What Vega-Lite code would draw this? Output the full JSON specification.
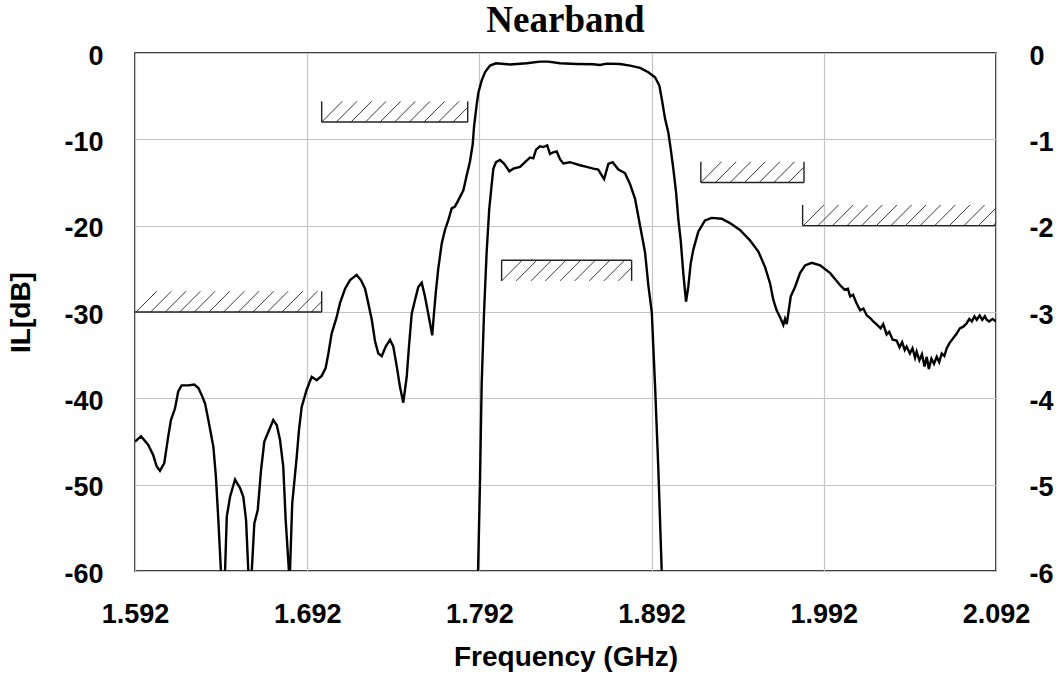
{
  "$schema": "https://vega.github.io/schema/vega-lite/v6.json",
  "width": 861,
  "height": 518,
  "autosize": {"type": "none"},
  "padding": {"left": 135, "top": 53, "right": 62, "bottom": 104},
  "background": "white",
  "title": {"text": "Nearband", "font": "Liberation Serif", "fontSize": 37, "fontWeight": "bold", "color": "#000", "anchor": "middle", "offset": 2},
  "config": {
    "view": {"stroke": "#000", "strokeWidth": 1.5},
    "axis": {
      "domain": false, "ticks": false,
      "labelFont": "Liberation Sans", "labelFontWeight": "bold", "labelFontSize": 27, "labelColor": "#000",
      "titleFont": "Liberation Sans", "titleFontWeight": "bold", "titleFontSize": 28, "titleColor": "#000",
      "gridColor": "#c4c4c4", "gridWidth": 1.2, "gridOpacity": 1
    }
  },
  "datasets": {
    "outer": [
      {"f":1.5920,"il":-45.0},{"f":1.5955,"il":-44.4},{"f":1.5997,"il":-45.4},{"f":1.6026,"il":-46.6},{"f":1.6046,"il":-47.9},{"f":1.6065,"il":-48.4},{"f":1.6090,"il":-47.5},{"f":1.6113,"il":-44.4},{"f":1.6129,"il":-42.5},{"f":1.6152,"il":-41.2},{"f":1.6171,"il":-39.2},{"f":1.6191,"il":-38.5},{"f":1.6230,"il":-38.5},{"f":1.6264,"il":-38.4},{"f":1.6288,"il":-38.8},{"f":1.6307,"il":-39.6},{"f":1.6327,"il":-40.6},{"f":1.6346,"il":-42.5},{"f":1.6375,"il":-45.6},{"f":1.6390,"il":-49.1},{"f":1.6404,"il":-54.1},{"f":1.6419,"il":-60.0},{"f":1.6431,"il":-68},{"f":1.6443,"il":-60.0},{"f":1.6453,"il":-53.7},{"f":1.6472,"il":-51.4},{"f":1.6501,"il":-49.4},{"f":1.6530,"il":-50.4},{"f":1.6549,"il":-51.4},{"f":1.6565,"il":-54.1},{"f":1.6578,"il":-60.0},{"f":1.6588,"il":-68},{"f":1.6598,"il":-60.0},{"f":1.6613,"il":-54.5},{"f":1.6633,"il":-52.9},{"f":1.6652,"il":-48.3},{"f":1.6671,"il":-45.0},{"f":1.6694,"il":-43.9},{"f":1.6723,"il":-42.5},{"f":1.6743,"il":-43.1},{"f":1.6762,"il":-44.8},{"f":1.6781,"il":-47.9},{"f":1.6795,"il":-54.1},{"f":1.6814,"il":-60.0},{"f":1.6817,"il":-66},{"f":1.6820,"il":-60.0},{"f":1.6833,"il":-52.2},{"f":1.6859,"il":-46.8},{"f":1.6872,"il":-43.7},{"f":1.6888,"il":-41.0},{"f":1.6917,"il":-39.0},{"f":1.6946,"il":-37.5},{"f":1.6975,"il":-37.9},{"f":1.7004,"il":-37.4},{"f":1.7027,"il":-36.5},{"f":1.7043,"il":-34.8},{"f":1.7062,"il":-32.5},{"f":1.7091,"il":-30.6},{"f":1.7110,"il":-29.0},{"f":1.7140,"il":-27.3},{"f":1.7169,"il":-26.3},{"f":1.7207,"il":-25.7},{"f":1.7232,"il":-26.3},{"f":1.7256,"il":-27.3},{"f":1.7275,"il":-29.0},{"f":1.7295,"il":-30.9},{"f":1.7314,"il":-33.4},{"f":1.7333,"il":-34.8},{"f":1.7353,"il":-35.1},{"f":1.7376,"il":-34.0},{"f":1.7401,"il":-33.2},{"f":1.7420,"il":-34.0},{"f":1.7440,"il":-36.3},{"f":1.7459,"il":-38.7},{"f":1.7478,"il":-40.5},{"f":1.7498,"il":-37.5},{"f":1.7511,"il":-34.0},{"f":1.7527,"il":-30.2},{"f":1.7546,"il":-28.6},{"f":1.7565,"il":-27.1},{"f":1.7585,"il":-26.6},{"f":1.7604,"il":-28.2},{"f":1.7623,"il":-30.2},{"f":1.7646,"il":-32.7},{"f":1.7656,"il":-30.2},{"f":1.7668,"il":-27.5},{"f":1.7681,"il":-25.0},{"f":1.7701,"il":-22.1},{"f":1.7720,"il":-20.5},{"f":1.7739,"il":-19.4},{"f":1.7759,"il":-18.0},{"f":1.7778,"il":-17.8},{"f":1.7807,"il":-16.7},{"f":1.7827,"il":-15.9},{"f":1.7846,"il":-14.2},{"f":1.7865,"il":-12.6},{"f":1.7881,"il":-10.6},{"f":1.7889,"il":-8.5},{"f":1.7904,"il":-6.0},{"f":1.7914,"il":-4.6},{"f":1.7933,"il":-3.2},{"f":1.7953,"il":-2.2},{"f":1.7982,"il":-1.46},{"f":1.8016,"il":-1.19},{"f":1.8098,"il":-1.34},{"f":1.8195,"il":-1.19},{"f":1.8272,"il":-1.0},{"f":1.8320,"il":-1.0},{"f":1.8388,"il":-1.19},{"f":1.8485,"il":-1.27},{"f":1.8581,"il":-1.31},{"f":1.8620,"il":-1.39},{"f":1.8659,"il":-1.23},{"f":1.8736,"il":-1.27},{"f":1.8795,"il":-1.46},{"f":1.8853,"il":-1.73},{"f":1.8901,"il":-2.23},{"f":1.8940,"il":-2.81},{"f":1.8965,"il":-3.77},{"f":1.8979,"il":-5.3},{"f":1.8998,"il":-7.6},{"f":1.9017,"il":-9.2},{"f":1.9031,"il":-11.1},{"f":1.9046,"il":-13.4},{"f":1.9062,"il":-16.1},{"f":1.9075,"il":-19.2},{"f":1.9089,"il":-21.7},{"f":1.9104,"il":-25.5},{"f":1.9120,"il":-28.8},{"f":1.9133,"il":-27.1},{"f":1.9147,"il":-24.4},{"f":1.9162,"il":-22.8},{"f":1.9191,"il":-20.7},{"f":1.9230,"il":-19.4},{"f":1.9269,"il":-19.1},{"f":1.9327,"il":-19.2},{"f":1.9375,"il":-19.7},{"f":1.9433,"il":-20.5},{"f":1.9491,"il":-21.7},{"f":1.9540,"il":-23.0},{"f":1.9579,"il":-24.8},{"f":1.9608,"il":-26.7},{"f":1.9627,"il":-28.6},{"f":1.9646,"il":-29.8},{"f":1.9666,"il":-30.6},{"f":1.9685,"il":-31.5},{"f":1.9695,"il":-30.8},{"f":1.9705,"il":-31.4},{"f":1.9728,"il":-28.2},{"f":1.9753,"il":-27.1},{"f":1.9782,"il":-25.5},{"f":1.9811,"il":-24.6},{"f":1.9850,"il":-24.3},{"f":1.9899,"il":-24.6},{"f":1.9957,"il":-25.5},{"f":2.0015,"il":-26.9},{"f":2.0040,"il":-27.4},{"f":2.0060,"il":-27.3},{"f":2.0073,"il":-28.2},{"f":2.0090,"il":-28.0},{"f":2.0110,"il":-29.0},{"f":2.0131,"il":-29.8},{"f":2.0150,"il":-29.6},{"f":2.0170,"il":-30.4},{"f":2.0190,"il":-30.7},{"f":2.0207,"il":-31.1},{"f":2.0230,"il":-31.5},{"f":2.0250,"il":-31.9},{"f":2.0265,"il":-31.4},{"f":2.0285,"il":-32.6},{"f":2.0300,"il":-32.3},{"f":2.0320,"il":-33.2},{"f":2.0343,"il":-33.3},{"f":2.0360,"il":-34.1},{"f":2.0375,"il":-33.5},{"f":2.0390,"il":-34.4},{"f":2.0401,"il":-34.0},{"f":2.0420,"il":-34.8},{"f":2.0435,"il":-34.2},{"f":2.0450,"il":-35.3},{"f":2.0459,"il":-34.6},{"f":2.0475,"il":-35.6},{"f":2.0490,"il":-34.9},{"f":2.0505,"il":-36.3},{"f":2.0518,"il":-35.2},{"f":2.0530,"il":-36.6},{"f":2.0545,"il":-35.4},{"f":2.0560,"il":-36.0},{"f":2.0576,"il":-35.2},{"f":2.0590,"il":-35.8},{"f":2.0605,"il":-34.8},{"f":2.0620,"il":-35.1},{"f":2.0634,"il":-34.2},{"f":2.0650,"il":-33.6},{"f":2.0665,"il":-33.2},{"f":2.0680,"il":-32.8},{"f":2.0692,"il":-32.5},{"f":2.0710,"il":-31.9},{"f":2.0730,"il":-31.7},{"f":2.0750,"il":-31.3},{"f":2.0765,"il":-30.8},{"f":2.0780,"il":-31.1},{"f":2.0795,"il":-30.5},{"f":2.0808,"il":-30.9},{"f":2.0825,"il":-30.4},{"f":2.0840,"il":-30.9},{"f":2.0855,"il":-30.5},{"f":2.0866,"il":-30.9},{"f":2.0880,"il":-31.1},{"f":2.0900,"il":-30.8},{"f":2.0920,"il":-31.1}
    ],
    "inner": [
      {"f":1.7910,"il":-6.2},{"f":1.7923,"il":-5.01},{"f":1.7933,"il":-3.85},{"f":1.7947,"il":-3.0},{"f":1.7962,"il":-2.31},{"f":1.7977,"il":-1.81},{"f":1.7991,"il":-1.53},{"f":1.8001,"il":-1.34},{"f":1.8016,"il":-1.265},{"f":1.8040,"il":-1.24},{"f":1.8063,"il":-1.28},{"f":1.8094,"il":-1.37},{"f":1.8117,"il":-1.34},{"f":1.8156,"il":-1.32},{"f":1.8185,"il":-1.265},{"f":1.8214,"il":-1.21},{"f":1.8233,"il":-1.22},{"f":1.8249,"il":-1.12},{"f":1.8272,"il":-1.08},{"f":1.8291,"il":-1.09},{"f":1.8314,"il":-1.07},{"f":1.8330,"il":-1.17},{"f":1.8349,"il":-1.15},{"f":1.8369,"il":-1.14},{"f":1.8388,"il":-1.23},{"f":1.8407,"il":-1.28},{"f":1.8446,"il":-1.265},{"f":1.8504,"il":-1.3},{"f":1.8543,"il":-1.32},{"f":1.8581,"il":-1.34},{"f":1.8610,"il":-1.35},{"f":1.8644,"il":-1.46},{"f":1.8669,"il":-1.285},{"f":1.8694,"il":-1.265},{"f":1.8727,"il":-1.35},{"f":1.8765,"il":-1.39},{"f":1.8795,"il":-1.52},{"f":1.8824,"il":-1.69},{"f":1.8853,"il":-2.0},{"f":1.8882,"il":-2.31},{"f":1.8901,"il":-2.69},{"f":1.8921,"il":-3.0},{"f":1.8940,"il":-3.85},{"f":1.8959,"il":-4.81},{"f":1.8982,"il":-6.2}
    ],
    "hatch": [
      {"x1":1.5926,"y1":-30,"x2":1.6046,"y2":-27.6},{"x1":1.6011,"y1":-30,"x2":1.6131,"y2":-27.6},{"x1":1.6096,"y1":-30,"x2":1.6216,"y2":-27.6},{"x1":1.6180,"y1":-30,"x2":1.6300,"y2":-27.6},{"x1":1.6265,"y1":-30,"x2":1.6385,"y2":-27.6},{"x1":1.6350,"y1":-30,"x2":1.6470,"y2":-27.6},{"x1":1.6435,"y1":-30,"x2":1.6555,"y2":-27.6},{"x1":1.6520,"y1":-30,"x2":1.6640,"y2":-27.6},{"x1":1.6605,"y1":-30,"x2":1.6725,"y2":-27.6},{"x1":1.6689,"y1":-30,"x2":1.6809,"y2":-27.6},{"x1":1.6774,"y1":-30,"x2":1.6894,"y2":-27.6},{"x1":1.6859,"y1":-30,"x2":1.6979,"y2":-27.6},{"x1":1.6944,"y1":-30,"x2":1.7004,"y2":-28.8},
      {"x1":1.7004,"y1":-8,"x2":1.7124,"y2":-5.6},{"x1":1.7089,"y1":-8,"x2":1.7209,"y2":-5.6},{"x1":1.7174,"y1":-8,"x2":1.7294,"y2":-5.6},{"x1":1.7258,"y1":-8,"x2":1.7378,"y2":-5.6},{"x1":1.7343,"y1":-8,"x2":1.7463,"y2":-5.6},{"x1":1.7428,"y1":-8,"x2":1.7548,"y2":-5.6},{"x1":1.7513,"y1":-8,"x2":1.7633,"y2":-5.6},{"x1":1.7598,"y1":-8,"x2":1.7718,"y2":-5.6},{"x1":1.7682,"y1":-8,"x2":1.7802,"y2":-5.6},{"x1":1.7767,"y1":-8,"x2":1.7852,"y2":-6.3},
      {"x1":1.8049,"y1":-26.4,"x2":1.8169,"y2":-24},{"x1":1.8134,"y1":-26.4,"x2":1.8254,"y2":-24},{"x1":1.8219,"y1":-26.4,"x2":1.8339,"y2":-24},{"x1":1.8303,"y1":-26.4,"x2":1.8423,"y2":-24},{"x1":1.8388,"y1":-26.4,"x2":1.8508,"y2":-24},{"x1":1.8473,"y1":-26.4,"x2":1.8593,"y2":-24},{"x1":1.8558,"y1":-26.4,"x2":1.8678,"y2":-24},{"x1":1.8643,"y1":-26.4,"x2":1.8763,"y2":-24},{"x1":1.8727,"y1":-26.4,"x2":1.8804,"y2":-24.86},
      {"x1":1.9206,"y1":-15,"x2":1.9326,"y2":-12.6},{"x1":1.9291,"y1":-15,"x2":1.9411,"y2":-12.6},{"x1":1.9376,"y1":-15,"x2":1.9496,"y2":-12.6},{"x1":1.9460,"y1":-15,"x2":1.9580,"y2":-12.6},{"x1":1.9545,"y1":-15,"x2":1.9665,"y2":-12.6},{"x1":1.9630,"y1":-15,"x2":1.9750,"y2":-12.6},{"x1":1.9715,"y1":-15,"x2":1.9805,"y2":-13.2},
      {"x1":1.9801,"y1":-20,"x2":1.9921,"y2":-17.6},{"x1":1.9886,"y1":-20,"x2":2.0006,"y2":-17.6},{"x1":1.9971,"y1":-20,"x2":2.0091,"y2":-17.6},{"x1":2.0055,"y1":-20,"x2":2.0175,"y2":-17.6},{"x1":2.0140,"y1":-20,"x2":2.0260,"y2":-17.6},{"x1":2.0225,"y1":-20,"x2":2.0345,"y2":-17.6},{"x1":2.0310,"y1":-20,"x2":2.0430,"y2":-17.6},{"x1":2.0394,"y1":-20,"x2":2.0514,"y2":-17.6},{"x1":2.0479,"y1":-20,"x2":2.0599,"y2":-17.6},{"x1":2.0564,"y1":-20,"x2":2.0684,"y2":-17.6},{"x1":2.0649,"y1":-20,"x2":2.0769,"y2":-17.6},{"x1":2.0734,"y1":-20,"x2":2.0854,"y2":-17.6},{"x1":2.0818,"y1":-20,"x2":2.0920,"y2":-17.96},{"x1":2.0903,"y1":-20,"x2":2.0920,"y2":-19.66}
    ],
    "edges": [
      {"x1":1.5920,"y1":-30,"x2":1.7004,"y2":-30},{"x1":1.7004,"y1":-30,"x2":1.7004,"y2":-27.6},
      {"x1":1.7004,"y1":-8,"x2":1.7852,"y2":-8},{"x1":1.7004,"y1":-8,"x2":1.7004,"y2":-5.6},{"x1":1.7852,"y1":-8,"x2":1.7852,"y2":-5.6},
      {"x1":1.8049,"y1":-24,"x2":1.8804,"y2":-24},{"x1":1.8049,"y1":-24,"x2":1.8049,"y2":-26.4},{"x1":1.8804,"y1":-24,"x2":1.8804,"y2":-26.4},
      {"x1":1.9206,"y1":-15,"x2":1.9805,"y2":-15},{"x1":1.9206,"y1":-15,"x2":1.9206,"y2":-12.6},{"x1":1.9805,"y1":-15,"x2":1.9805,"y2":-12.6},
      {"x1":1.9797,"y1":-20,"x2":2.0920,"y2":-20},{"x1":1.9797,"y1":-20,"x2":1.9797,"y2":-17.6}
    ]
  },
  "layer": [
    {
      "layer": [
        {
          "data": {"name": "outer"},
          "mark": {"type": "line", "color": "#000", "strokeWidth": 2.4, "clip": true},
          "encoding": {
            "x": {"field": "f", "type": "quantitative", "title": "Frequency (GHz)",
              "scale": {"domain": [1.592, 2.092], "nice": false, "zero": false},
              "axis": {"values": [1.592, 1.692, 1.792, 1.892, 1.992, 2.092], "format": ".3f", "labelFlush": false, "labelOverlap": false, "labelPadding": 30, "titlePadding": 16, "grid": true}},
            "y": {"field": "il", "type": "quantitative", "title": "IL[dB]",
              "scale": {"domain": [-60, 0], "nice": false, "zero": false},
              "axis": {"values": [-60, -50, -40, -30, -20, -10, 0], "labelExpr": "'' + datum.value", "labelPadding": 32, "labelOffset": 3, "titlePadding": 28, "grid": true, "labelOverlap": false}}
          }
        },
        {
          "data": {"name": "hatch"},
          "mark": {"type": "rule", "color": "#222", "strokeWidth": 0.9},
          "encoding": {
            "x": {"field": "x1", "type": "quantitative", "title": "Frequency (GHz)"},
            "y": {"field": "y1", "type": "quantitative", "title": "IL[dB]"},
            "x2": {"field": "x2"},
            "y2": {"field": "y2"}
          }
        },
        {
          "data": {"name": "edges"},
          "mark": {"type": "rule", "color": "#222", "strokeWidth": 1.4},
          "encoding": {
            "x": {"field": "x1", "type": "quantitative", "title": "Frequency (GHz)"},
            "y": {"field": "y1", "type": "quantitative", "title": "IL[dB]"},
            "x2": {"field": "x2"},
            "y2": {"field": "y2"}
          }
        }
      ]
    },
    {
      "data": {"name": "inner"},
      "mark": {"type": "line", "color": "#000", "strokeWidth": 2.4, "clip": true},
      "encoding": {
        "x": {"field": "f", "type": "quantitative", "title": "Frequency (GHz)"},
        "y": {"field": "il", "type": "quantitative", "title": null,
          "scale": {"domain": [-6, 0], "nice": false, "zero": false},
          "axis": {"values": [-6, -5, -4, -3, -2, -1, 0], "labelExpr": "'' + datum.value", "labelPadding": 33, "labelOffset": 3, "grid": false, "labelOverlap": false}}
      }
    }
  ],
  "resolve": {"scale": {"y": "independent"}, "axis": {"y": "independent"}}
}
